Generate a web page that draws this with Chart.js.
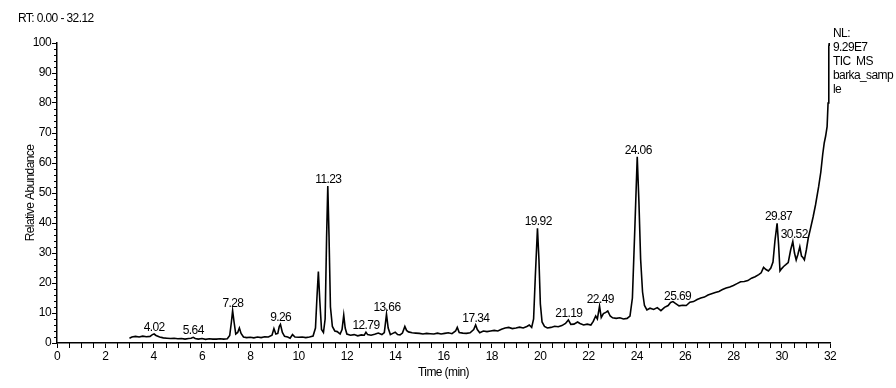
<!DOCTYPE html>
<html><head><meta charset="utf-8">
<script src="https://cdn.jsdelivr.net/npm/chart.js@4.4.1/dist/chart.umd.min.js"></script>
<style>html,body{margin:0;padding:0;background:#fff;}canvas{display:block;}</style>
</head><body><canvas id="c" width="896" height="388"></canvas>
<script>
// ---- data ----
const times = [
  3.00,3.10,3.25,3.40,3.55,3.70,3.85,3.95,4.02,4.10,
  4.25,4.40,4.55,4.70,4.85,5.00,5.15,5.30,5.45,5.55,
  5.64,5.72,5.85,6.00,6.15,6.30,6.45,6.60,6.75,6.90,
  7.05,7.15,7.22,7.27,7.33,7.40,7.48,7.55,7.62,7.72,
  7.85,8.00,8.15,8.30,8.45,8.60,8.75,8.90,8.98,9.06,
  9.14,9.20,9.25,9.33,9.42,9.55,9.65,9.75,9.85,10.00,
  10.15,10.30,10.45,10.60,10.70,10.76,10.82,10.88,10.95,11.03,
  11.10,11.16,11.21,11.26,11.32,11.40,11.50,11.60,11.72,11.80,
  11.87,11.93,12.00,12.15,12.30,12.45,12.60,12.72,12.79,12.86,
  13.00,13.15,13.30,13.45,13.55,13.64,13.71,13.80,13.90,14.00,
  14.10,14.20,14.30,14.40,14.47,14.55,14.70,14.85,15.00,15.15,
  15.30,15.45,15.60,15.75,15.90,16.05,16.20,16.35,16.50,16.57,
  16.65,16.80,16.95,17.10,17.25,17.33,17.40,17.50,17.65,17.80,
  17.95,18.10,18.25,18.40,18.55,18.70,18.85,19.00,19.15,19.30,
  19.45,19.55,19.65,19.73,19.80,19.89,19.95,20.01,20.08,20.18,
  20.30,20.45,20.60,20.75,20.90,21.05,21.17,21.27,21.40,21.55,
  21.65,21.80,21.95,22.10,22.20,22.30,22.37,22.46,22.53,22.62,
  22.72,22.80,22.90,23.00,23.15,23.30,23.45,23.60,23.72,23.82,
  23.92,24.02,24.09,24.16,24.24,24.32,24.42,24.55,24.70,24.85,
  25.00,25.15,25.30,25.40,25.50,25.60,25.75,25.90,26.05,26.20,
  26.35,26.50,26.65,26.80,26.95,27.10,27.25,27.40,27.55,27.70,
  27.85,28.00,28.15,28.30,28.45,28.60,28.75,28.90,29.05,29.15,
  29.25,29.35,29.45,29.55,29.64,29.72,29.81,29.87,29.93,30.00,
  30.08,30.17,30.27,30.37,30.46,30.53,30.60,30.67,30.75,30.82,
  30.88,30.94,31.02,31.10,31.18,31.30,31.40,31.53,31.62,31.70,
  31.76,31.82,31.88,31.92,31.95,31.97,31.99
];
const abundance = [
  1.6,2.0,2.2,2.0,2.3,2.1,2.2,2.8,3.0,2.5,
  2.0,1.7,1.6,1.5,1.6,1.4,1.5,1.3,1.5,1.6,
  1.9,1.5,1.3,1.5,1.2,1.4,1.3,1.3,1.4,1.3,
  1.4,2.5,7.0,10.8,7.0,3.0,3.5,5.0,3.2,2.0,
  1.8,1.9,1.7,2.0,1.8,2.1,2.0,2.6,4.8,3.0,
  3.2,5.5,6.2,3.5,2.2,2.0,1.6,2.8,2.0,1.9,
  2.0,1.8,2.0,2.3,5.0,15.0,23.8,14.0,4.5,3.5,
  8.0,35.0,52.3,36.0,12.0,5.5,4.0,3.8,3.0,4.5,
  9.3,5.0,3.0,2.6,2.8,2.4,2.7,2.6,3.6,2.8,
  2.6,2.9,3.3,2.8,3.5,9.6,5.0,2.8,3.2,3.6,
  2.8,2.7,3.3,5.5,4.2,3.7,3.4,3.3,3.2,3.0,
  3.2,3.1,3.0,3.3,3.0,3.2,3.4,3.1,4.0,5.2,
  3.5,3.3,3.2,3.4,4.5,6.0,4.5,3.4,4.0,3.8,
  4.0,4.2,4.0,4.6,5.0,5.2,4.8,5.0,5.3,5.0,
  5.5,6.0,5.2,8.0,22.0,38.2,28.0,13.0,7.0,5.5,
  5.0,5.2,5.6,5.4,5.8,6.5,7.7,6.2,6.3,7.0,
  6.5,6.0,6.3,6.0,7.2,9.0,8.0,12.3,8.5,9.8,
  10.2,10.7,9.0,8.4,8.2,8.4,8.0,8.2,9.0,15.0,
  38.0,62.1,47.0,28.0,17.0,12.5,11.0,11.6,11.2,11.8,
  10.8,11.9,12.5,13.5,13.8,13.2,12.4,12.6,12.5,13.6,
  13.8,14.5,15.0,15.3,16.0,16.4,16.8,17.2,17.8,18.3,
  18.7,19.2,19.8,20.4,20.5,20.8,21.6,22.1,22.8,23.4,
  25.2,24.5,24.0,25.0,27.0,34.0,39.9,33.0,24.0,24.8,
  25.5,26.1,26.8,31.0,33.8,30.0,27.7,29.5,32.1,29.0,
  28.5,27.7,31.0,35.0,37.7,42.0,46.0,52.1,57.0,63.0,
  66.6,69.0,72.1,80.0,98.8,100,99
];
const peakLabels = ['4.02','5.64','7.28','9.26','11.23','12.79','13.66','17.34','19.92','21.19','22.49','24.06','25.69','29.87','30.52'];
const xRange = [0, 32];
const yRange = [0, 100];
const headerText = 'RT: 0.00 - 32.12';
const infoLines = ['NL:', '9.29E7', 'TIC  MS', 'barka_samp', 'le'];
const xTitle = 'Time (min)';
const yTitle = 'Relative Abundance';

// ---- rendering ----
const FONT = '"Liberation Sans Narrow","Arial Narrow","Liberation Sans",Arial,sans-serif';
const SPACING = '-0.6px';
const points = times.map((t, i) => ({x: t, y: abundance[i]}));

const annotate = {
  id: 'annotate',
  beforeDraw(chart) {
    chart.ctx.letterSpacing = SPACING;
  },
  afterDraw(chart) {
    const {ctx, chartArea, scales: {x, y}} = chart;
    ctx.save();
    ctx.letterSpacing = SPACING;
    ctx.strokeStyle = '#000';
    ctx.lineWidth = 1;
    // minor ticks on x (every 0.5 min)
    for (let v = xRange[0]; v <= xRange[1] + 1e-9; v += 0.5) {
      if (Math.abs(v / 2 - Math.round(v / 2)) < 1e-9) continue;
      const px = Math.round(x.getPixelForValue(v)) + 0.5;
      ctx.beginPath(); ctx.moveTo(px, chartArea.bottom); ctx.lineTo(px, chartArea.bottom + 5); ctx.stroke();
    }
    // minor ticks on y (every 2 %)
    for (let v = yRange[0]; v <= yRange[1] + 1e-9; v += 2) {
      if (v % 10 === 0) continue;
      const py = Math.round(y.getPixelForValue(v)) + 0.5;
      ctx.beginPath(); ctx.moveTo(chartArea.left - 3, py); ctx.lineTo(chartArea.left, py); ctx.stroke();
    }
    ctx.fillStyle = '#000';
    ctx.font = '12px ' + FONT;
    // peak labels above apexes
    ctx.textAlign = 'center';
    ctx.textBaseline = 'bottom';
    peakLabels.forEach(lbl => {
      const t = parseFloat(lbl);
      let top = 0;
      times.forEach((tt, i) => { if (Math.abs(tt - t) <= 0.12) top = Math.max(top, abundance[i]); });
      ctx.fillText(lbl, x.getPixelForValue(t), y.getPixelForValue(top) - 0.5);
    });
    // header
    ctx.textAlign = 'left';
    ctx.textBaseline = 'middle';
    ctx.fillText(headerText, 18, 19);
    // info block at the right
    infoLines.forEach((s, i) => ctx.fillText(s, chartArea.right + 3, 34 + i * 14));
    ctx.restore();
  }
};

new Chart(document.getElementById('c'), {
  type: 'line',
  data: { datasets: [{ data: points, borderColor: '#000', borderWidth: 1.6, pointRadius: 0, tension: 0, fill: false }] },
  options: {
    responsive: false, animation: false, devicePixelRatio: 1,
    layout: { padding: { top: 43, right: 66, bottom: 0, left: 0 } },
    plugins: { legend: { display: false }, tooltip: { enabled: false } },
    scales: {
      x: {
        type: 'linear', min: xRange[0], max: xRange[1],
        ticks: { stepSize: 2, color: '#000', font: { family: FONT, size: 12 }, maxRotation: 0, padding: 1, autoSkip: false },
        grid: { drawOnChartArea: false, drawTicks: true, tickLength: 5, color: '#000', lineWidth: 1 },
        border: { color: '#000', width: 1.5 },
        title: { display: true, text: xTitle, color: '#000', font: { family: FONT, size: 12 }, padding: { top: 0, bottom: 8 } },
        afterFit(s) { s.height = 45; }
      },
      y: {
        type: 'linear', min: yRange[0], max: yRange[1],
        ticks: { stepSize: 10, color: '#000', font: { family: FONT, size: 12 }, padding: 1, autoSkip: false },
        grid: { drawOnChartArea: false, drawTicks: true, tickLength: 5, color: '#000', lineWidth: 1 },
        border: { color: '#000', width: 1.5 },
        title: { display: true, text: yTitle, color: '#000', font: { family: FONT, size: 12 }, padding: { top: 23, bottom: 0 } },
        afterFit(s) { s.width = 57; }
      }
    }
  },
  plugins: [annotate]
});
</script>
</body></html>
